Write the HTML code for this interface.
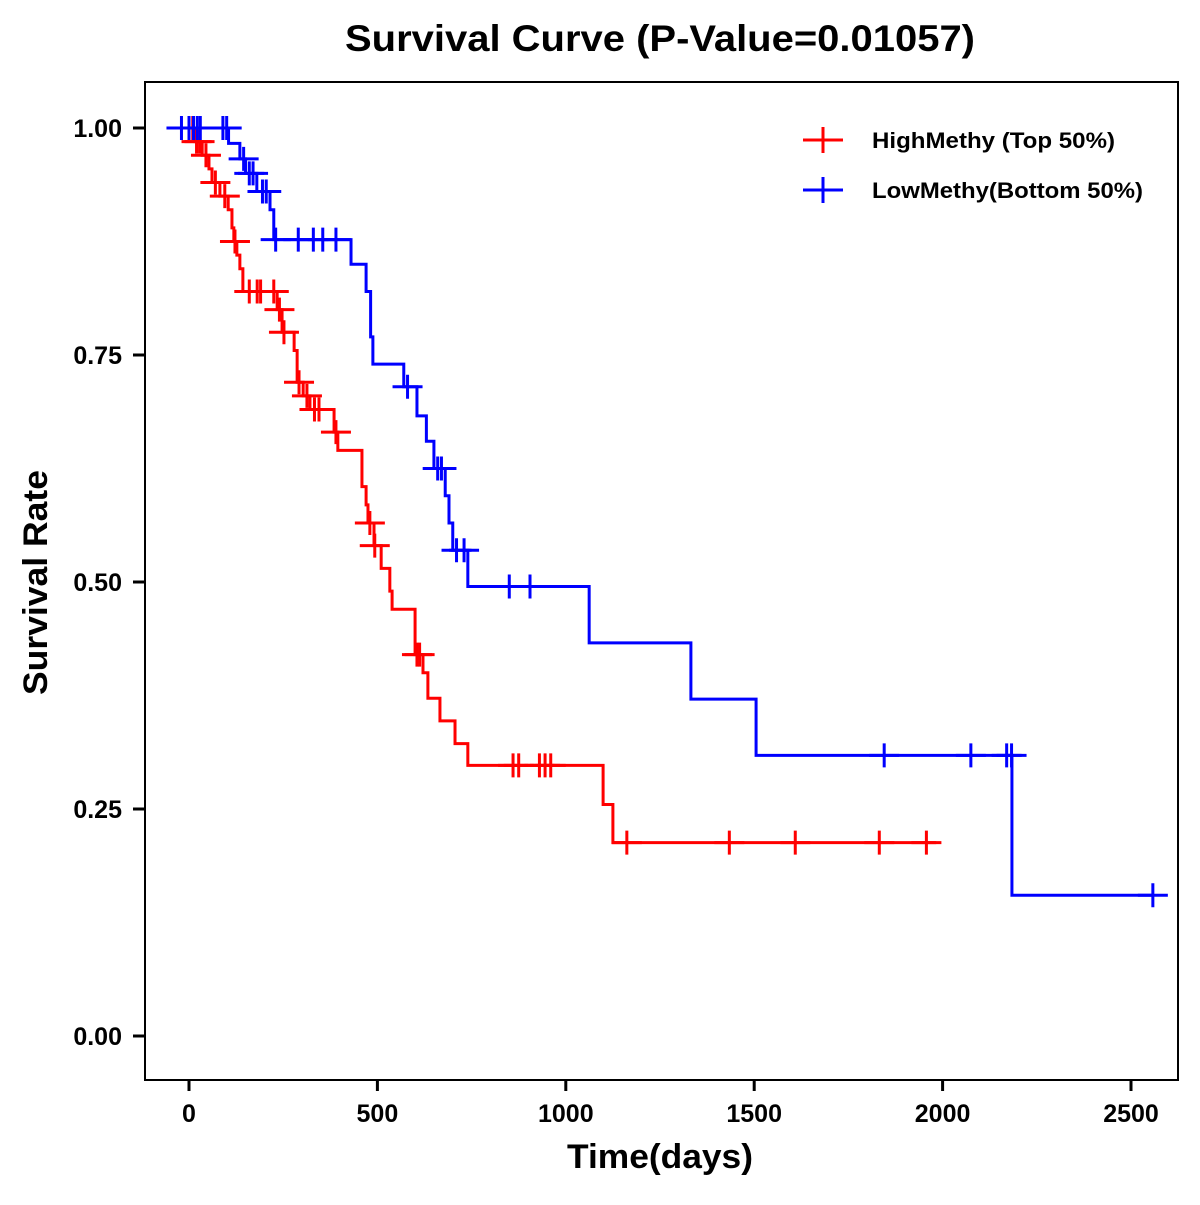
<!DOCTYPE html>
<html><head><meta charset="utf-8"><style>
body{margin:0;background:#fff}
svg text{font-family:"Liberation Sans",Arial,sans-serif;font-weight:bold;fill:#000}
</style></head><body>
<svg id="chart" width="1200" height="1200" xmlns="http://www.w3.org/2000/svg">
<rect width="1200" height="1200" fill="#fff"/>
<text x="345" y="51" font-size="37" textLength="630" lengthAdjust="spacingAndGlyphs">Survival Curve (P-Value=0.01057)</text>
<rect x="145" y="82" width="1033" height="998" fill="none" stroke="#000" stroke-width="2"/>
<g id="axes"></g>
<g id="series"></g>
<text x="567" y="1168" font-size="34" textLength="186" lengthAdjust="spacingAndGlyphs">Time(days)</text>
<text x="0" y="0" font-size="34" textLength="225" lengthAdjust="spacingAndGlyphs" transform="translate(47 695) rotate(-90)">Survival Rate</text>
<g>
<g><line x1="803" y1="140" x2="843" y2="140" stroke="#f00" stroke-width="3"/><line x1="823" y1="127" x2="823" y2="153" stroke="#f00" stroke-width="3"/><text x="872" y="148" font-size="22" textLength="243" lengthAdjust="spacingAndGlyphs">HighMethy (Top 50%)</text></g>
<g><line x1="803" y1="190" x2="843" y2="190" stroke="#00f" stroke-width="3"/><line x1="823" y1="177" x2="823" y2="203" stroke="#00f" stroke-width="3"/><text x="872" y="198" font-size="22" textLength="271" lengthAdjust="spacingAndGlyphs">LowMethy(Bottom 50%)</text></g>
</g>
</svg>
<script>
const xTicks=[0,500,1000,1500,2000,2500];
const yTicks=[0,0.25,0.5,0.75,1.0];
const yTickLabels=["0.00","0.25","0.50","0.75","1.00"];
const highTimes=[16,35,53,61,82,104,114,119,127,135,143,234,247,279,287,303,321,385,395,459,470,475,491,510,533,539,600,621,634,666,706,740,1099,1125];
const highSurv=[.985,.97,.955,.94,.925,.91,.89,.875,.86,.845,.82,.80,.775,.755,.72,.705,.69,.665,.645,.605,.585,.565,.54,.515,.49,.47,.42,.40,.372,.347,.322,.298,.255,.213];
const highCensor=[10,20,28,45,70,95,122,160,181,190,225,240,252,292,313,333,345,390,480,493,605,612,860,875,930,945,960,1162,1434,1609,1832,1957];
const highEnd=1983;
const lowTimes=[105,135,150,180,215,225,430,470,482,488,570,605,630,650,680,690,700,740,1062,1332,1505,2184];
const lowSurv=[.983,.966,.95,.93,.91,.877,.85,.82,.77,.74,.715,.683,.655,.625,.595,.565,.535,.495,.433,.371,.309,.155];
const lowCensor=[-20,0,12,22,30,90,100,145,160,170,195,205,230,290,330,355,390,580,660,670,710,730,850,905,1845,2075,2170,2183,2558];
const lowEnd=2558;
const X=t=>189+t*0.3768, Y=s=>1036-s*908;
const NS="http://www.w3.org/2000/svg";
function mk(tag,attrs,parent){const e=document.createElementNS(NS,tag);for(const k in attrs)e.setAttribute(k,attrs[k]);parent.appendChild(e);return e;}
const ax=document.getElementById('axes');
xTicks.forEach(t=>{
 const l=mk('line',{x1:X(t),x2:X(t),y1:1080,y2:1091,stroke:'#000','stroke-width':3},ax);
 
 
 const tx=mk('text',{x:X(t),y:1122,'font-size':25,'text-anchor':'middle'},ax);tx.textContent=t;
 
 
});
yTicks.forEach((s,i)=>{
 const l=mk('line',{x1:133,x2:145,y1:Y(s),y2:Y(s),stroke:'#000','stroke-width':3},ax);
 
 
 const tx=mk('text',{x:122,y:Y(s)+9,'font-size':25,'text-anchor':'end'},ax);tx.textContent=yTickLabels[i];
 
 
});
const sg=document.getElementById('series');
function survAt(times,surv,t){let s=1;for(let i=0;i<times.length;i++){if(times[i]<=t)s=surv[i];}return s;}
function draw(times,surv,cens,end,color,name){
 const g=mk('g',{},sg);
 
 
 let d=`M${X(Math.min(0,cens[0]))},${Y(1)}`;
 times.forEach((t,i)=>{d+=` H${X(t)} V${Y(surv[i])}`;});
 d+=` H${X(end)}`;
 const p=mk('path',{d:d,fill:'none',stroke:color,'stroke-width':3},g);
 
 
 cens.forEach(t=>{const y=Y(survAt(times,surv,t)),x=X(t);
  const c=mk('path',{d:`M${x-15},${y}H${x+15}M${x},${y-12}V${y+12}`,stroke:color,'stroke-width':3,fill:'none'},g);
  
  
 });
}
draw(highTimes,highSurv,highCensor,highEnd,'#f00','high-methy-series');
draw(lowTimes,lowSurv,lowCensor,lowEnd,'#00f','low-methy-series');
</script>
</body></html>
